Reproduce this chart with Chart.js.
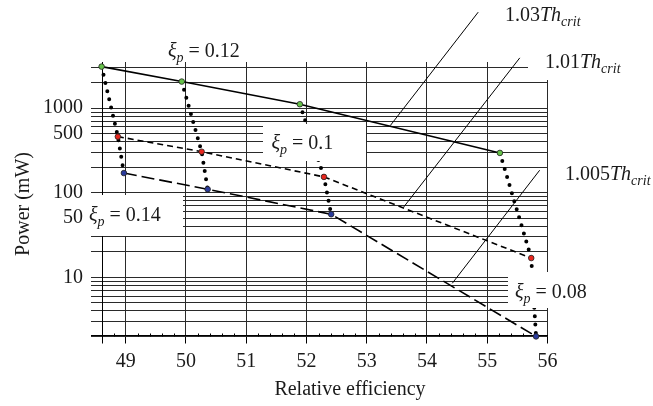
<!DOCTYPE html>
<html><head><meta charset="utf-8">
<script src="https://cdn.jsdelivr.net/npm/chart.js@4.4.1/dist/chart.umd.min.js"></script>
<style>html,body{margin:0;padding:0;background:#fff;}canvas{display:block;}</style>
</head><body>
<canvas id="c" width="653" height="406"></canvas>
<script>
// ---------------- data ----------------
const xiP = [0.14, 0.12, 0.10, 0.08];
const thresholdLabels = ['1.03', '1.01', '1.005'];
const eff103  = [48.60, 49.93, 51.89, 55.21];
const pow103  = [3106, 2066, 1115, 296];
const eff101  = [48.87, 50.26, 52.29, 55.73];
const pow101  = [461, 306, 154, 16.9];
const eff1005 = [48.97, 50.36, 52.41, 55.81];
const pow1005 = [171, 110, 55.7, 2.0];
const xTickValues = [49, 50, 51, 52, 53, 54, 55, 56];
const yLabelValues = [10, 50, 100, 500, 1000];
const yGridValues = [2,3,4,5,6,7,8,9,10,20,30,40,50,60,70,80,90,100,200,300,400,500,600,700,800,900,1000,2000,3000];
// pointer lines from threshold labels to their curves (data units)
const pointerEffStart = [54.85, 55.54, 55.87];
const pointerPowStart = [13680, 3940, 184.6];
const pointerEffEnd   = [53.39, 53.61, 54.42];
const pointerPowEnd   = [622, 67.3, 8.5];
const yAxisCrossEff = 48.60;

// ---------------- styling ----------------
const FONT = '"Liberation Serif", "Times New Roman", serif';
const pts = (xs, ys) => xs.map((x, i) => ({x, y: ys[i]}));
const datasets = [];

// dotted curves (one per xi_p): 1.03 -> 1.01 -> 1.005
xiP.forEach((xi, i) => {
  datasets.push({
    label: 'xi_p=' + xi,
    data: [{x: eff103[i], y: pow103[i]}, {x: eff101[i], y: pow101[i]}, {x: eff1005[i], y: pow1005[i]}],
    showLine: true, borderColor: '#000', borderWidth: 4, borderDash: [0, 8.4],
    borderCapStyle: 'round', pointRadius: 0, order: 3, clip: false
  });
});
const lineStyles = [
  {dash: [], fill: '#66c24a'},
  {dash: [6, 4], fill: '#e8261e'},
  {dash: [13, 5], fill: '#2a3b9c'}
];
[[eff103, pow103], [eff101, pow101], [eff1005, pow1005]].forEach(([xs, ys], k) => {
  datasets.push({
    label: thresholdLabels[k] + 'Th_crit',
    data: pts(xs, ys), showLine: true, borderColor: '#000', borderWidth: 1.6,
    borderDash: lineStyles[k].dash, pointRadius: 2.8, pointBackgroundColor: lineStyles[k].fill,
    pointBorderColor: '#222', pointBorderWidth: 0.8, order: 1, clip: false
  });
});
thresholdLabels.forEach((t, k) => {
  datasets.push({
    label: 'pointer ' + t,
    data: [{x: pointerEffStart[k], y: pointerPowStart[k]}, {x: pointerEffEnd[k], y: pointerPowEnd[k]}],
    showLine: true, borderColor: '#000', borderWidth: 1, pointRadius: 0, order: 2, clip: false
  });
});

// text labels (pixel layout) and their white backing boxes
const labelBoxes = [
  [87, 195, 96, 41],
  [263, 124, 103, 37],
  [508, 272, 100, 36],
  [528, 44, 110, 36]
];
const xiRuns = v => [{t: 'ξ', it: true}, {t: 'p', it: true, sub: true}, {t: ' = ' + v}];
const thRuns = v => [{t: v}, {t: 'Th', it: true}, {t: 'crit', it: true, sub: true}];
const textLabels = [
  {x: 168, y: 57, runs: xiRuns('0.12')},
  {x: 271.5, y: 148.5, runs: xiRuns('0.1')},
  {x: 89, y: 221, runs: xiRuns('0.14')},
  {x: 515, y: 298, runs: xiRuns('0.08')},
  {x: 505, y: 21, runs: thRuns('1.03')},
  {x: 545, y: 68, runs: thRuns('1.01')},
  {x: 565, y: 180, runs: thRuns('1.005')}
];

function drawRich(ctx, x, y, runs, size) {
  let cx = x;
  ctx.textBaseline = 'alphabetic';
  ctx.textAlign = 'left';
  for (const r of runs) {
    const fs = r.sub ? size * 0.7 : size;
    ctx.font = (r.it ? 'italic ' : '') + fs + 'px ' + FONT;
    ctx.fillText(r.t, cx, y + (r.sub ? size * 0.27 : 0));
    cx += ctx.measureText(r.t).width;
  }
}

const decorPlugin = {
  id: 'decor',
  beforeDatasetsDraw(chart) {
    const {ctx, chartArea: a, scales: {x}} = chart;
    ctx.save();
    ctx.strokeStyle = '#000';
    ctx.lineWidth = 1;
    // y axis line at the crossing value
    const px = Math.round(x.getPixelForValue(yAxisCrossEff)) + 0.5;
    ctx.beginPath(); ctx.moveTo(px, a.top); ctx.lineTo(px, a.bottom + 8); ctx.stroke();
    // minor x ticks every 0.2
    const by = Math.round(a.bottom) + 0.5;
    for (let v = 48.6; v < x.max; v += 0.2) {
      if (Math.abs(v - Math.round(v)) < 1e-6) continue;
      const p = Math.round(x.getPixelForValue(v)) + 0.5;
      ctx.beginPath(); ctx.moveTo(p, by); ctx.lineTo(p, by - 3); ctx.stroke();
    }
    ctx.restore();
  },
  afterDatasetsDraw(chart) {
    const {ctx} = chart;
    ctx.save();
    ctx.fillStyle = '#fff';
    labelBoxes.forEach(b => ctx.fillRect(b[0], b[1], b[2], b[3]));
    ctx.fillStyle = '#1a1a1a';
    textLabels.forEach(l => drawRich(ctx, l.x, l.y, l.runs, 20));
    // axis titles
    ctx.font = '20px ' + FONT;
    ctx.textAlign = 'center';
    ctx.textBaseline = 'alphabetic';
    ctx.fillText('Relative efficiency', 350, 395);
    ctx.translate(29, 204);
    ctx.rotate(-Math.PI / 2);
    ctx.fillText('Power (mW)', 0, 0);
    ctx.restore();
  }
};

new Chart(document.getElementById('c'), {
  type: 'scatter',
  data: {datasets},
  plugins: [decorPlugin],
  options: {
    responsive: false, animation: false, devicePixelRatio: 1,
    layout: {padding: {left: 0, right: 105.5, top: 62, bottom: 0}},
    plugins: {legend: {display: false}, tooltip: {enabled: false}},
    scales: {
      x: {
        type: 'linear', min: 48.424, max: 56.0,
        afterBuildTicks: s => { s.ticks = xTickValues.map(v => ({value: v})); },
        afterFit: s => { s.height = 70.5; },
        ticks: {font: {family: FONT, size: 20}, color: '#1a1a1a', padding: 6, maxRotation: 0, autoSkip: false,
                callback: v => String(v)},
        grid: {color: '#2a2a2a', lineWidth: 1, drawTicks: true, tickLength: 8, tickColor: '#000'},
        border: {display: true, color: '#000', width: 1}
      },
      y: {
        type: 'logarithmic', min: 2.05, max: 3520,
        afterBuildTicks: s => { s.ticks = yGridValues.map(v => ({value: v})); },
        afterFit: s => { s.width = 91; },
        ticks: {font: {family: FONT, size: 20}, color: '#1a1a1a', padding: 8, autoSkip: false,
                callback: v => yLabelValues.includes(v) ? String(v) : ''},
        grid: {color: '#2a2a2a', lineWidth: 1, drawTicks: false},
        border: {display: false}
      }
    }
  }
});
</script>
</body></html>
